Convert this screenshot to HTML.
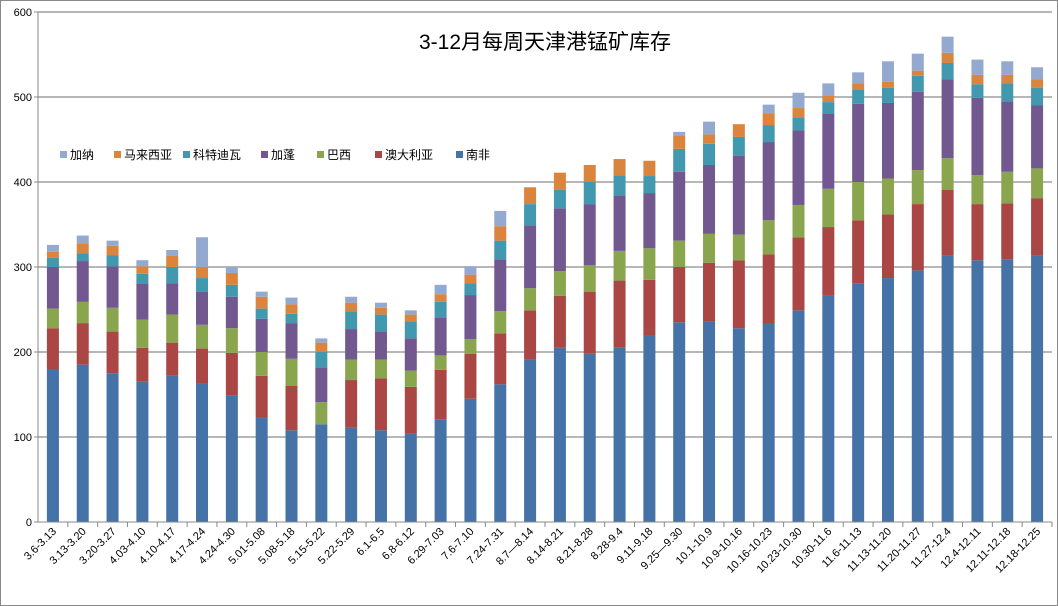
<!DOCTYPE html>
<html><head><meta charset="utf-8"><style>
body{margin:0;background:#fff;}
svg{display:block;font-family:"Liberation Sans","Noto Sans CJK SC",sans-serif;}
</style></head><body>
<svg id="chart" width="1058" height="606" viewBox="0 0 1058 606">
<rect x="0.5" y="0.5" width="1057" height="605" fill="#fff" stroke="#888"/>
<text x="545" y="49" font-size="21" text-anchor="middle" fill="#000">3-12月每周天津港锰矿库存</text>
<g id="grid"></g><g id="bars"></g><g id="axes"></g><g id="legend"></g>
</svg>
<script>
const categories=["3.6-3.13","3.13-3.20","3.20-3.27","4.03-4.10","4.10-4.17","4.17-4.24","4.24-4.30","5.01-5.08","5.08-5.18","5.15-5.22","5.22-5.29","6.1-6.5","6.8-6.12","6.29-7.03","7.6-7.10","7.24-7.31","8.7—8.14","8.14-8.21","8.21-8.28","8.28-9.4","9.11-9.18","9.25—9.30","10.1-10.9","10.9-10.16","10.16-10.23","10.23-10.30","10.30-11.6","11.6-11.13","11.13-11.20","11.20-11.27","11.27-12.4","12.4-12.11","12.11-12.18","12.18-12.25"];
const southAfrica=[180,185,175,165,172,163,149,123,108,115,111,108,104,121,145,162,191,205,198,205,220,235,236,228,233,249,266,281,287,296,314,308,309,314];
const australia=[48,49,49,40,39,41,50,49,52,0,56,61,55,58,53,60,58,61,73,79,65,65,69,80,82,86,81,74,75,78,77,66,66,67];
const brazil=[23,25,28,33,33,28,29,28,32,26,24,22,19,17,17,26,26,29,31,35,37,31,34,30,40,38,45,45,42,40,37,34,37,35];
const gabon=[49,48,49,42,37,39,37,39,42,41,36,33,38,44,52,61,74,74,72,65,65,81,81,93,92,88,88,92,89,92,93,91,83,74];
const coteDivoire=[11,9,13,12,19,16,14,12,11,18,21,20,20,19,14,22,25,22,26,24,20,27,25,22,20,15,14,17,18,19,19,16,21,21];
const malaysia=[7,12,11,9,13,13,14,14,11,11,10,8,8,9,10,17,19,20,20,19,18,16,11,15,14,11,8,7,7,6,12,11,10,10];
const ghana=[8,9,6,7,7,35,7,6,8,5,7,6,5,11,10,18,1,0,0,0,0,4,15,0,10,18,14,13,24,20,19,18,16,14];
const yTicks=[0,100,200,300,400,500,600];
const seriesNames=["南非","澳大利亚","巴西","加蓬","科特迪瓦","马来西亚","加纳"];
const seriesKeys=["south-africa","australia","brazil","gabon","cote-divoire","malaysia","ghana"];
const colors=["#4572A7","#AA4643","#89A54E","#71588F","#4198AF","#DB843D","#93A9CF"];
const series=[southAfrica,australia,brazil,gabon,coteDivoire,malaysia,ghana];

const NS="http://www.w3.org/2000/svg";
const X0=38,X1=1052,Y0=522,Ytop=12,YMAX=600;
const bw=(X1-X0)/categories.length;
const y=v=>Y0-v/YMAX*(Y0-Ytop);
const xc=i=>X0+bw*(i+0.5);
function mk(tag,attrs,parent){const e=document.createElementNS(NS,tag);for(const k in attrs)e.setAttribute(k,attrs[k]);parent.appendChild(e);return e;}
const grid=document.getElementById('grid'),bars=document.getElementById('bars'),axes=document.getElementById('axes'),legend=document.getElementById('legend');
yTicks.forEach(t=>{
  if(t>0){const l=mk('line',{x1:X0,x2:X1,y1:y(t),y2:y(t),stroke:'#8c8c8c','stroke-width':1.2},grid);
  
  }
  const tk=mk('line',{x1:X0-4,x2:X0,y1:y(t),y2:y(t),stroke:'#888'},axes);
  
  
  const tx=mk('text',{x:X0-6,y:y(t)+4,'font-size':11,'text-anchor':'end',fill:'#000'},axes);tx.textContent=t;
  
  
});
categories.forEach((c,i)=>{
  let cum=0;
  series.forEach((s,k)=>{
    const v=s[i];if(v<=0)return;
    const r=mk('rect',{x:xc(i)-6,width:12,y:y(cum+v),height:y(cum)-y(cum+v),fill:colors[k]},bars);
    
    
    cum+=v;
  });
  const tk=mk('line',{x1:X0+bw*(i+1),x2:X0+bw*(i+1),y1:Y0,y2:Y0+5,stroke:'#888'},axes);
  
  
  const tx=mk('text',{x:xc(i)+4,y:Y0+10,'font-size':11,'text-anchor':'end',transform:`rotate(-45 ${xc(i)+4} ${Y0+10})`,fill:'#000'},axes);
  tx.textContent=c;
  
  
});
const ya=mk('line',{x1:X0,x2:X0,y1:Ytop,y2:Y0,stroke:'#888'},axes);


const xa=mk('line',{x1:X0,x2:X1,y1:Y0,y2:Y0,stroke:'#888'},axes);


const legX=[60,114,183,261,317,375,456];
[6,5,4,3,2,1,0].forEach((k,j)=>{
  const g=mk('g',{},legend);
  
  
  mk('rect',{x:legX[j],y:151,width:7,height:7,fill:colors[k]},g);
  const t=mk('text',{x:legX[j]+10,y:159,'font-size':12,fill:'#000'},g);t.textContent=seriesNames[k];
});
</script>
</body></html>
